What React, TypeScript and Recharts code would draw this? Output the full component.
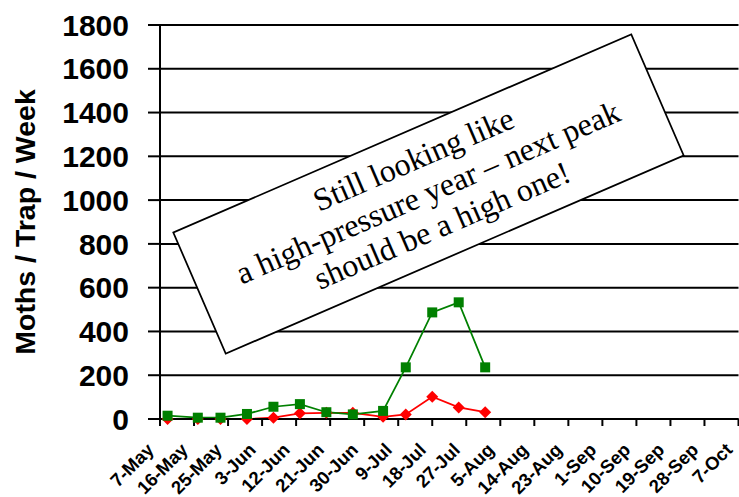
import React from 'react';
import { LineChart, Line, XAxis, YAxis, CartesianGrid } from 'recharts';

// trap check dates and counts (moths per trap per week)
const sampleDates = ['9-May', '17-May', '23-May', '30-May', '6-Jun', '13-Jun', '20-Jun', '27-Jun', '5-Jul', '11-Jul', '18-Jul', '25-Jul', '1-Aug'];
const greenCounts = [15, 6, 6, 23, 56, 68, 31, 21, 37, 236, 487, 533, 236];
const redCounts = [0, 0, 0, 0, 6, 26, 28, 28, 10, 21, 102, 53, 31];

const tickDates = ['7-May', '16-May', '25-May', '3-Jun', '12-Jun', '21-Jun', '30-Jun', '9-Jul', '18-Jul', '27-Jul', '5-Aug', '14-Aug', '23-Aug', '1-Sep', '10-Sep', '19-Sep', '28-Sep', '7-Oct'];
const yTicks = [0, 200, 400, 600, 800, 1000, 1200, 1400, 1600, 1800];

const noteLines = ['Still looking like', 'a high-pressure year \u2013 next peak', 'should be a high one!'];

const MONTHS: Record<string, number> = { May: 4, Jun: 5, Jul: 6, Aug: 7, Sep: 8, Oct: 9 };

// days since 7-May
function dayOffset(label: string) {
  const [d, m] = label.split('-');
  return Math.round((Date.UTC(2021, MONTHS[m], Number(d)) - Date.UTC(2021, 4, 7)) / 86400000);
}

const tickDays = tickDates.map(dayOffset);
const tickLabel: Record<number, string> = {};
tickDates.forEach((t) => { tickLabel[dayOffset(t)] = t; });

const chartData = sampleDates.map((d, i) => ({
  day: dayOffset(d),
  green: greenCounts[i],
  red: redCounts[i],
}));

const SANS = '"Liberation Sans", Arial, sans-serif';
const SERIF = '"Liberation Serif", "Times New Roman", serif';

function DateTick({ x, y, payload }: any) {
  const ax = x - 5;
  const ay = y + 23;
  return (
    <text x={ax} y={ay} transform={`rotate(-45, ${ax}, ${ay})`} textAnchor="end"
      fontFamily={SANS} fontWeight="bold" fontSize={18.5} fill="#000">
      {tickLabel[payload.value]}
    </text>
  );
}

function SquareDot({ cx, cy, index }: any) {
  return <rect key={`g${index}`} x={cx - 5} y={cy - 5} width={10} height={10} fill="#008000" />;
}

function DiamondDot({ cx, cy, index }: any) {
  const r = 6;
  return (
    <polygon key={`r${index}`} points={`${cx},${cy - r} ${cx + r},${cy} ${cx},${cy + r} ${cx - r},${cy}`} fill="#ff0000" />
  );
}

export default function App() {
  return (
    <div style={{ position: 'fixed', left: 0, top: 0, width: 739, height: 497, background: '#fff', overflow: 'hidden' }}>
      <LineChart width={740} height={497} data={chartData} margin={{ top: 25, right: 1.5, left: 0, bottom: 0 }}>
        <CartesianGrid vertical={false} stroke="#000" strokeWidth={2} />
        <XAxis
          type="number"
          dataKey="day"
          domain={[0, 153]}
          ticks={tickDays}
          interval={0}
          height={78}
          tickSize={7}
          tickMargin={2}
          stroke="#000"
          strokeWidth={2}
          tick={<DateTick />}
        />
        <YAxis
          domain={[0, 1800]}
          ticks={yTicks}
          interval={0}
          width={160}
          tickSize={12}
          tickMargin={19}
          stroke="#000"
          strokeWidth={2}
          tick={{ fontFamily: SANS, fontWeight: 'bold', fontSize: 30, fill: '#000' }}
        />
        <Line type="linear" dataKey="red" stroke="#ff0000" strokeWidth={1.75} dot={DiamondDot} isAnimationActive={false} />
        <Line type="linear" dataKey="green" stroke="#008000" strokeWidth={1.75} dot={SquareDot} isAnimationActive={false} />
      </LineChart>
      <svg width={739} height={497} style={{ position: 'absolute', left: 0, top: 0, pointerEvents: 'none' }}>
        <text x={35} y={222} transform="rotate(-90, 35, 222)" textAnchor="middle"
          fontFamily={SANS} fontWeight="bold" fontSize={28.5} fill="#000">
          Moths / Trap / Week
        </text>
        <g transform="translate(428.5, 194) rotate(-23.4)">
          <rect x={-249.5} y={-66} width={499} height={132} fill="#fff" stroke="#000" strokeWidth={1.75} />
          {noteLines.map((line, i) => (
            <text key={i} x={0} y={(i - 1) * 36 + 9} textAnchor="middle" fontFamily={SERIF} fontSize={32} fill="#000">
              {line}
            </text>
          ))}
        </g>
      </svg>
    </div>
  );
}
